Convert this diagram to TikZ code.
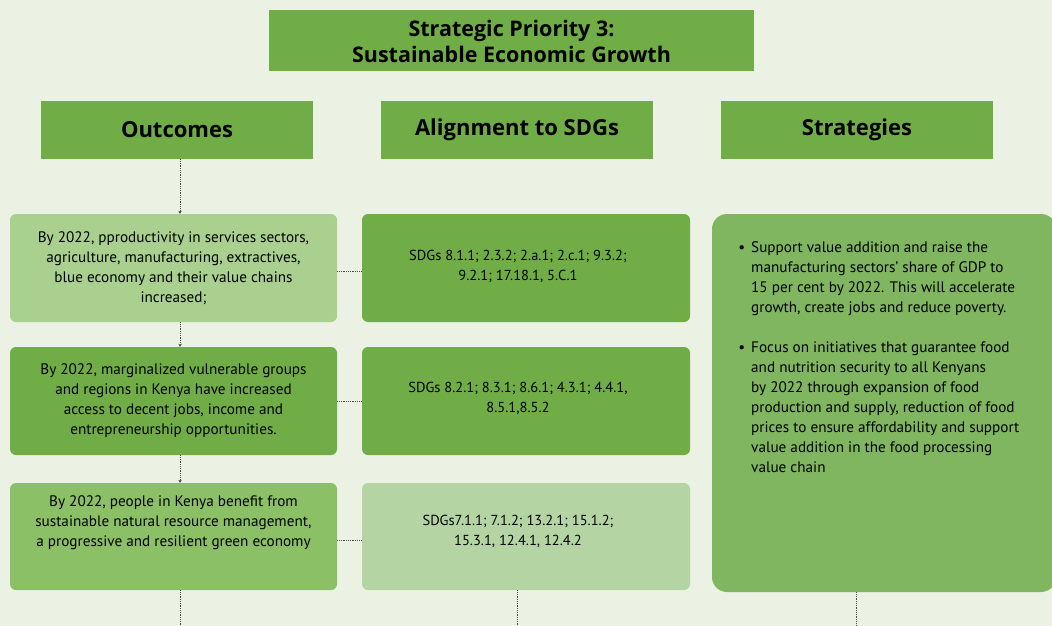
\documentclass[tikz,border=0pt]{standalone}
\usepackage{fontspec}
\setmainfont{PT Sans}
\newfontfamily\headfont{Open Sans}
\usetikzlibrary{arrows.meta,positioning}

\definecolor{bgcol}{HTML}{EBF1E3}
\definecolor{dkgreen}{HTML}{70AD47}
\definecolor{ltgreen}{HTML}{A9D08E}
\definecolor{mdgreen}{HTML}{8BC066}
\definecolor{palegreen}{HTML}{B5D4A3}
\definecolor{stgreen}{HTML}{7FB65F}

\tikzset{
  head/.style={fill=dkgreen, minimum width=272pt, minimum height=58pt, inner sep=0pt,
    font=\headfont\bfseries\fontsize{22}{26}\selectfont},
  box/.style={rounded corners=6pt, minimum width=327pt, minimum height=108pt, inner sep=0pt,
    align=center, font=\fontsize{15.2}{20}\selectfont},
  txt/.style={inner sep=0pt, align=center, font=\fontsize{15.2}{20}\selectfont},
  sdgtxt/.style={txt, font=\fontsize{14.5}{20}\selectfont},
  link/.style={densely dotted, line width=0.8pt, draw=black!70},
  linkarr/.style={link, -{Stealth[length=3pt,width=3.5pt]}},
}

\begin{document}
\begin{tikzpicture}[x=1pt, y=-1pt]
    % Page
    \useasboundingbox (0,0) rectangle (1052,626);
    \clip (0,0) rectangle (1052,626);
    \fill[bgcol] (0,0) rectangle (1052,626);

    % Title and headers
    \node[fill=dkgreen, minimum width=485pt, minimum height=61pt, inner sep=0pt, align=center,
      font=\headfont\bfseries\fontsize{21.5}{26}\selectfont] (title) at (511.5,41)
      {Strategic Priority 3:\\Sustainable Economic Growth};
    \node[head] (hout) at (177,130) {Outcomes};
    \node[head] (hsdg) at (517,130) {Alignment to SDGs};
    \node[head] (hstr) at (857,130) {Strategies};

    % Outcomes
    \node[box, fill=ltgreen] (o1) at (173.5,268)
      {By 2022, pproductivity in services sectors,\\agriculture, manufacturing, extractives,\\blue economy and their value chains\\increased;};
    \node[box, fill=dkgreen] (o2) at (173.5,401)
      {By 2022, marginalized vulnerable groups\\and regions in Kenya have increased\\access to decent jobs, income and\\entrepreneurship opportunities.};
    \node[box, fill=mdgreen, minimum height=107pt] (o3) at (173.5,536.5) {};
    \node[txt] (o3t) at (173.5,523)
      {By 2022, people in Kenya benefit from\\sustainable natural resource management,\\a progressive and resilient green economy};

    % SDGs
    \node[box, fill=dkgreen, minimum width=328pt] (g1) at (526,268) {};
    \node[sdgtxt] (g1t) at (518,266) {SDGs 8.1.1; 2.3.2; 2.a.1; 2.c.1; 9.3.2;\\9.2.1; 17.18.1, 5.C.1};
    \node[box, fill=dkgreen, minimum width=328pt] (g2) at (526,401) {};
    \node[sdgtxt] (g2t) at (518,398) {SDGs 8.2.1; 8.3.1; 8.6.1; 4.3.1; 4.4.1,\\8.5.1,8.5.2};
    \node[box, fill=palegreen, minimum width=328pt, minimum height=107pt] (g3) at (526,536.5) {};
    \node[sdgtxt] (g3t) at (518,531) {SDGs7.1.1; 7.1.2; 13.2.1; 15.1.2;\\15.3.1, 12.4.1, 12.4.2};

    % Strategies
    \node[box, fill=stgreen, rounded corners=15pt, minimum width=344pt, minimum height=378pt] (st) at (884,403) {};
    \node[txt, align=left, anchor=north west] (stt) at (751,241)
      {\llap{\textbullet\hspace{6pt}}Support value addition and raise the\\
       manufacturing sectors’ share of GDP to\\
       15 per cent by 2022.  This will accelerate\\
       growth, create jobs and reduce poverty.\\[20pt]
       \llap{\textbullet\hspace{6pt}}Focus on initiatives that guarantee food\\
       and nutrition security to all Kenyans\\
       by 2022 through expansion of food\\
       production and supply, reduction of food\\
       prices to ensure affordability and support\\
       value addition in the food processing\\
       value chain};

    % Bottom ends
    \coordinate (oend) at (180,630);
    \coordinate (gend) at (517,630);
    \coordinate (send) at (856,630);

    % Connectors
    \draw[linkarr] ([xshift=3pt]hout.south) -- ([xshift=3pt]hout.south |- o1.north);
    \draw[linkarr] ([xshift=6.5pt]o1.south) -- ([xshift=6.5pt]o1.south |- o2.north);
    \draw[linkarr] ([xshift=6.5pt]o2.south) -- ([xshift=6.5pt]o2.south |- o3.north);
    \draw[link] ([xshift=6.5pt]o3.south) -- (oend);
    \draw[link] (g3.south -| gend) -- (gend);
    \draw[link] (st.south -| send) -- (send);
    \draw[link] ([yshift=-3pt]o1.east) -- ([yshift=-3pt]g1.west);
    \draw[link] (o2.east) -- (g2.west);
    \draw[link] ([yshift=-4pt]o3.east) -- ([yshift=-4pt]g3.west);
\end{tikzpicture}
\end{document}
